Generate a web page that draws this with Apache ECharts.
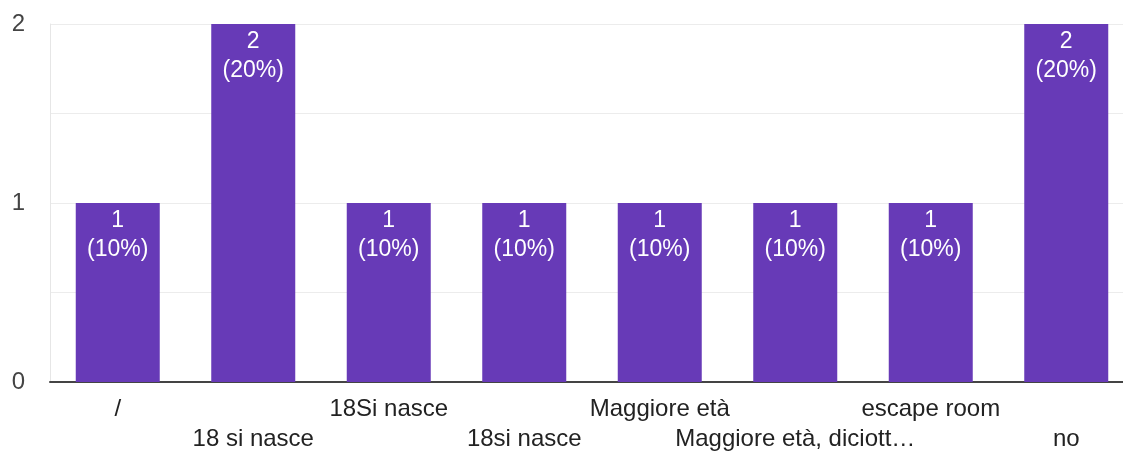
<!DOCTYPE html>
<html>
<head>
<meta charset="utf-8">
<script src="https://cdn.jsdelivr.net/npm/echarts@6/dist/echarts.min.js"></script>
<style>
  html, body { margin: 0; padding: 0; background: #fff; overflow: hidden; }
  #chart { width: 1140px; height: 454px; }
</style>
</head>
<body>
<div id="chart"></div>
<script>
const categories = ['/', '18 si nasce', '18Si nasce', '18si nasce', 'Maggiore età', 'Maggiore età, diciott…', 'escape room', 'no'];
const counts = [1, 2, 1, 1, 1, 1, 1, 2];
const percents = ['10%', '20%', '10%', '10%', '10%', '10%', '10%', '20%'];
const yTicks = [0, 1, 2];

// plot runs slightly past the right edge of the window, as in the original
const chart = echarts.init(document.getElementById('chart'));
const option = {
  animation: false,
  textStyle: { fontFamily: '"Liberation Sans", Arial, sans-serif' },
  grid: { left: 50, top: 24, bottom: 72, right: 6 },
  xAxis: {
    type: 'category',
    data: categories,
    axisTick: { show: false },
    axisLine: { lineStyle: { color: '#444', width: 2 } },
    axisLabel: {
      interval: 0,
      fontSize: 24,
      color: '#222',
      lineHeight: 30,
      margin: 12,
      formatter: function (v, i) { return i % 2 === 1 ? '\n' + v : v; }
    }
  },
  yAxis: {
    type: 'value',
    min: 0,
    max: 2,
    interval: 0.5,
    axisLine: { show: true, lineStyle: { color: '#e6e6e6' } },
    axisTick: { show: false },
    splitLine: { lineStyle: { color: '#ececec', width: 1 } },
    axisLabel: {
      fontSize: 24,
      color: '#444',
      margin: 25,
      formatter: function (v) { return yTicks.indexOf(v) >= 0 ? String(v) : ''; }
    }
  },
  series: [{
    type: 'bar',
    data: counts,
    barWidth: 84,
    itemStyle: { color: '#673ab7' },
    label: {
      show: true,
      position: 'insideTop',
      distance: 3,
      color: '#fff',
      fontSize: 23,
      lineHeight: 29,
      formatter: function (p) { return p.value + '\n(' + percents[p.dataIndex] + ')'; }
    }
  }]
};
chart.setOption(option);
</script>
</body>
</html>
